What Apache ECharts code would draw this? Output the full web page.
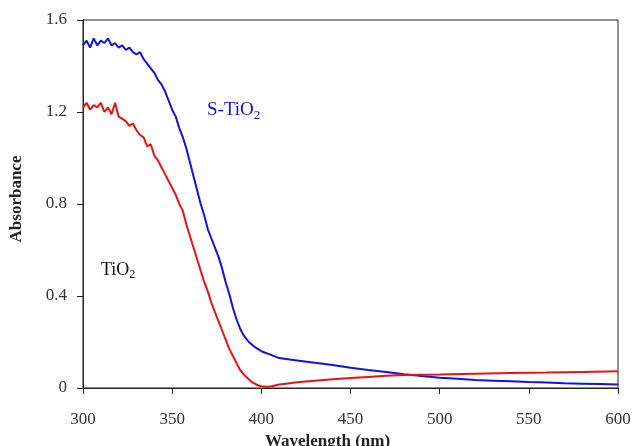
<!DOCTYPE html>
<html>
<head>
<meta charset="utf-8">
<script src="https://cdn.jsdelivr.net/npm/echarts@6/dist/echarts.min.js"></script>
<style>
    html, body { margin: 0; padding: 0; background: #fff; }
    #chart { width: 635px; height: 446px; }
</style>
</head>
<body>
<div id="chart"></div>
<script>
    // S-TiO2 (blue)
    var sWave = [300, 302, 304, 306, 308, 310, 312, 314, 316, 318, 320, 322, 324, 326, 328, 330, 332, 334, 336, 338,
        340, 342, 344, 346, 348, 350, 352, 354, 356, 358, 360, 362, 364, 366, 368, 370, 372, 374, 376, 378,
        380, 382, 384, 386, 388, 390, 393, 396, 400, 405, 410, 415, 420, 430, 440, 450, 460, 470, 480, 490,
        500, 510, 520, 530, 540, 550, 560, 570, 580, 590, 600];
    var sAbs = [1.49, 1.51, 1.48, 1.52, 1.49, 1.51, 1.50, 1.52, 1.49, 1.50, 1.48, 1.49, 1.47, 1.48, 1.46, 1.45, 1.46, 1.43, 1.41, 1.39,
        1.37, 1.34, 1.32, 1.29, 1.25, 1.21, 1.18, 1.13, 1.09, 1.04, 0.98, 0.92, 0.86, 0.80, 0.75, 0.69, 0.65, 0.61, 0.57, 0.52,
        0.46, 0.41, 0.35, 0.30, 0.26, 0.23, 0.20, 0.18, 0.16, 0.145, 0.13, 0.125, 0.12, 0.11, 0.10, 0.088, 0.078, 0.07, 0.06, 0.052,
        0.045, 0.04, 0.035, 0.032, 0.029, 0.026, 0.024, 0.021, 0.019, 0.017, 0.015];

    // TiO2 (red)
    var tWave = [300, 302, 304, 306, 308, 310, 312, 314, 316, 318, 320, 322, 324, 326, 328, 330, 332, 334, 336, 338,
        340, 342, 344, 346, 348, 350, 352, 354, 356, 358, 360, 362, 364, 366, 368, 370, 372, 374, 376, 378,
        380, 382, 384, 386, 388, 390, 392, 394, 396, 398, 400, 403, 406, 410, 415, 420, 430, 440, 450, 460,
        470, 480, 490, 500, 520, 540, 560, 580, 600];
    var tAbs = [1.22, 1.24, 1.21, 1.23, 1.22, 1.24, 1.20, 1.22, 1.19, 1.24, 1.18, 1.17, 1.16, 1.14, 1.15, 1.12, 1.10, 1.09, 1.05, 1.06,
        1.01, 0.99, 0.96, 0.93, 0.90, 0.87, 0.84, 0.80, 0.77, 0.71, 0.66, 0.61, 0.56, 0.51, 0.46, 0.42, 0.37, 0.33, 0.29, 0.25,
        0.21, 0.17, 0.14, 0.11, 0.08, 0.06, 0.045, 0.03, 0.02, 0.012, 0.008, 0.005, 0.008, 0.015, 0.02, 0.025, 0.032, 0.038, 0.043, 0.048,
        0.053, 0.056, 0.058, 0.059, 0.062, 0.065, 0.067, 0.07, 0.073];

    var font = 'Liberation Serif';

    function pairs(xs, ys) {
        var out = [];
        for (var i = 0; i < xs.length; i++) {
            out.push([xs[i], ys[i]]);
        }
        return out;
    }

    var chart = echarts.init(document.getElementById('chart'));
    chart.setOption({
        animation: false,
        grid: {left: 83, right: 17, top: 20, bottom: 58, outerBoundsMode: 'none', containLabel: false,
            show: true, borderColor: '#222', borderWidth: 1},
        xAxis: {
            type: 'value', min: 300, max: 600, interval: 50,
            name: 'Wavelength (nm)', nameLocation: 'middle', nameGap: 45,
            nameTextStyle: {fontFamily: font, fontSize: 17, fontWeight: 'bold', color: '#222', padding: [0, 46, 0, 0]},
            axisLine: {onZero: false, lineStyle: {color: '#222'}},
            axisTick: {length: 6, lineStyle: {color: '#222'}},
            axisLabel: {margin: 23, fontFamily: font, fontSize: 17, color: '#333'},
            splitLine: {show: false}
        },
        yAxis: {
            type: 'value', min: 0, max: 1.6, interval: 0.4,
            name: 'Absorbance', nameLocation: 'middle', nameGap: 58,
            nameTextStyle: {fontFamily: font, fontSize: 17, fontWeight: 'bold', color: '#222', padding: [0, 0, 0, 10]},
            axisLine: {show: true, lineStyle: {color: '#222'}},
            axisTick: {show: true, length: 6, lineStyle: {color: '#222'}},
            axisLabel: {margin: 16, fontFamily: font, fontSize: 17, color: '#333',
                formatter: function (v) { return v === 0 ? '0' : v.toFixed(1); }},
            splitLine: {show: false}
        },
        series: [
            {name: 'S-TiO2', type: 'line', data: pairs(sWave, sAbs), showSymbol: false,
                lineStyle: {color: '#1010ee', width: 2}},
            {name: 'TiO2', type: 'line', data: pairs(tWave, tAbs), showSymbol: false,
                lineStyle: {color: '#ee1010', width: 2}}
        ],
        graphic: [
            {type: 'text', left: 207, top: 101, style: {
                text: '{a|S-TiO}{b|2}', fill: '#1010dd',
                rich: {a: {fontFamily: font, fontSize: 19, fill: '#1010dd'},
                    b: {fontFamily: font, fontSize: 13, fill: '#1010dd', verticalAlign: 'bottom', padding: [10, 0, 0, 0]}}
            }},
            {type: 'text', left: 101, top: 261, style: {
                text: '{a|TiO}{b|2}', fill: '#111',
                rich: {a: {fontFamily: font, fontSize: 18, fill: '#111'},
                    b: {fontFamily: font, fontSize: 12, fill: '#111', verticalAlign: 'bottom', padding: [10, 0, 0, 0]}}
            }}
        ]
    });
</script>
</body>
</html>
